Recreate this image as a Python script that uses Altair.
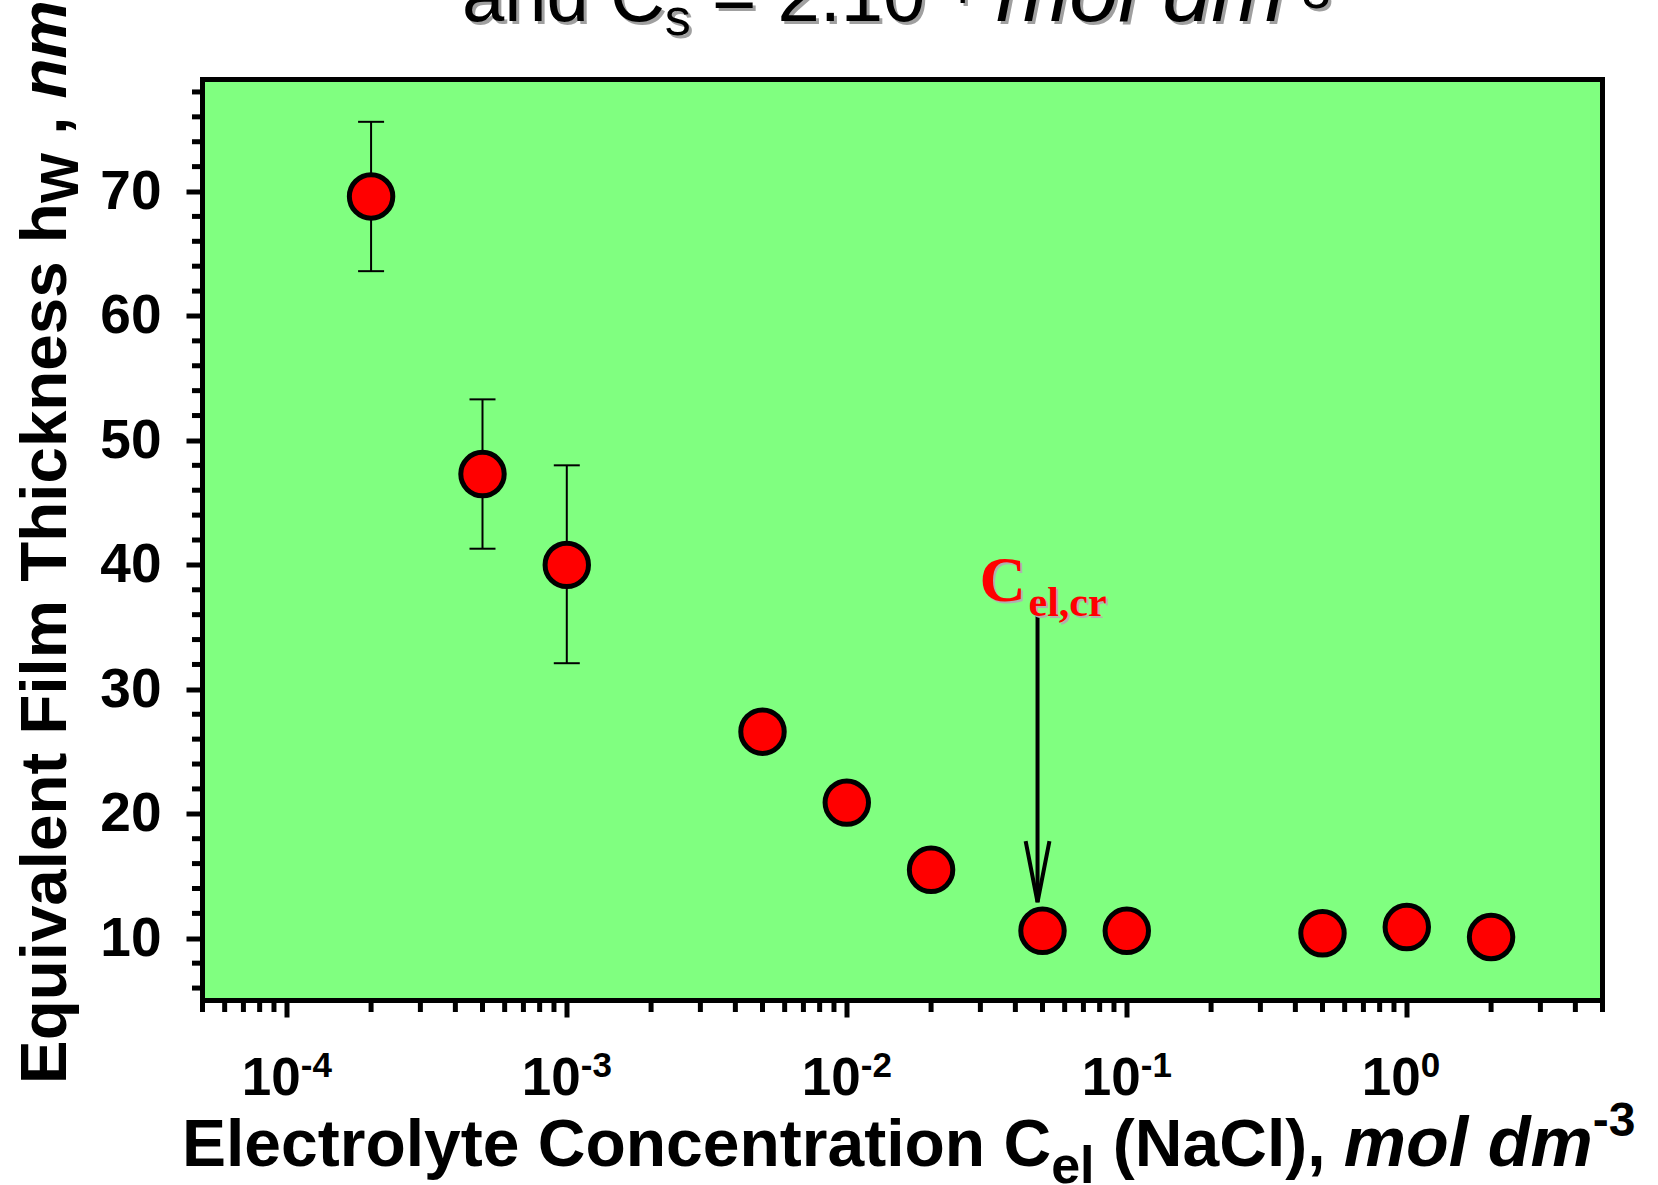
import altair as alt
import pandas as pd

# ---------------- data ----------------
conc = [2e-4, 5e-4, 1e-3, 5e-3, 1e-2, 2e-2, 5e-2, 1e-1, 5e-1, 1.0, 2.0]
thickness = [69.6, 47.3, 40.0, 26.6, 20.9, 15.5, 10.6, 10.6, 10.4, 10.9, 10.1]
err_conc = [2e-4, 5e-4, 1e-3]
err_low = [63.6, 41.3, 32.1]
err_high = [75.6, 53.3, 48.0]

x_major = [1e-4, 1e-3, 1e-2, 1e-1, 1.0]
x_major_exp = ["-4", "-3", "-2", "-1", "0"]
x_minor = [5e-5, 6e-5, 7e-5, 8e-5, 9e-5,
           2e-4, 3e-4, 4e-4, 5e-4, 6e-4, 7e-4, 8e-4, 9e-4,
           2e-3, 3e-3, 4e-3, 5e-3, 6e-3, 7e-3, 8e-3, 9e-3,
           2e-2, 3e-2, 4e-2, 5e-2, 6e-2, 7e-2, 8e-2, 9e-2,
           0.2, 0.3, 0.4, 0.5, 0.6, 0.7, 0.8, 0.9,
           2.0, 3.0, 4.0, 5.0]
y_major = [10, 20, 30, 40, 50, 60, 70]
y_minor = [6, 8, 12, 14, 16, 18, 22, 24, 26, 28, 32, 34, 36, 38, 42, 44, 46, 48,
           52, 54, 56, 58, 62, 64, 66, 68, 72, 74, 76, 78]

arrow_x = [0.048]
arrow_top = [35.9]
arrow_tip = [12.9]

# ---------------- geometry / style ----------------
W, H = 1400, 921
PAD_L, PAD_T = 202.5, 79.5
SANS = "Liberation Sans"
SERIF = "Liberation Serif"
GREEN = "#80FF80"
RED = "#FF0000"

xs = alt.Scale(type="log", domain=[5e-5, 5])
ys = alt.Scale(domain=[5, 79])

BOLD_W = {' ': 278, '(': 333, ')': 333, ',': 278, '-': 333, '.': 278, '=': 584,
          '0': 556, '1': 556, '2': 556, '3': 556, '4': 556,
          'C': 722, 'E': 667, 'F': 611, 'N': 722, 'T': 611, 'W': 944,
          'a': 556, 'c': 556, 'd': 611, 'e': 556, 'h': 611, 'i': 278, 'k': 556,
          'l': 278, 'm': 889, 'n': 611, 'o': 611, 'q': 611, 'r': 389, 's': 556,
          't': 333, 'u': 611, 'v': 556, 'y': 556}
REG_W = {' ': 278, 'a': 556, 'n': 556, 'd': 556, 'C': 722, 's': 500, '=': 584,
         '2': 556, '.': 278, '1': 556, '0': 556, '-': 333, '4': 556, '3': 556,
         'm': 833, 'o': 556, 'l': 222}


def tw(s, size, table):
    return sum(table.get(c, 556) for c in s) / 1000.0 * size


def text_at(txt, x_abs, y_abs, size, weight="bold", style="normal", font=SANS,
            color="black", angle=0):
    return alt.Chart(alt.Data(values=[{}])).mark_text(
        text=txt, font=font, fontSize=size, fontWeight=weight, fontStyle=style,
        color=color, angle=angle, align="left", baseline="alphabetic"
    ).encode(x=alt.value(x_abs - PAD_L), y=alt.value(y_abs - PAD_T))


def hrun(x0, y0, runs, color="black", dx=0, dy=0):
    layers = []
    cur = x0
    for txt, size, table, weight, style, shift in runs:
        lead = len(txt) - len(txt.lstrip(' '))
        start = cur + tw(txt[:lead], size, table)
        core = txt.strip(' ')
        if core:
            layers.append(text_at(core, start + dx, y0 + shift + dy, size, weight, style,
                                  color=color))
        cur += tw(txt, size, table)
    return layers


def vrun(x0, y0, runs):
    layers = []
    cur = y0
    for txt, size, table, weight, style, shift in runs:
        lead = len(txt) - len(txt.lstrip(' '))
        start = cur - tw(txt[:lead], size, table)
        core = txt.strip(' ')
        if core:
            layers.append(text_at(core, x0 + shift, start, size, weight, style, angle=270))
        cur -= tw(txt, size, table)
    return layers


# ---------------- data layers ----------------
pts = pd.DataFrame({"c": conc, "h": thickness})
errs = pd.DataFrame({"c": err_conc, "lo": err_low, "hi": err_high})
xmaj = pd.DataFrame({"v": x_major, "e": x_major_exp})
xmin = pd.DataFrame({"v": x_minor})
ymin = pd.DataFrame({"v": y_minor})
arr = pd.DataFrame({"c": arrow_x, "top": arrow_top, "tip": arrow_tip})

x_enc = alt.X("c:Q", scale=xs,
              axis=alt.Axis(values=x_major, tickSize=16.5, tickWidth=5, tickColor="black",
                            labels=False, domain=False, grid=False, title=None))
y_enc = alt.Y("h:Q", scale=ys,
              axis=alt.Axis(values=y_major, tickSize=16.5, tickWidth=5, tickColor="black",
                            labelFont=SANS, labelFontWeight="bold", labelFontSize=55,
                            labelColor="black", labelPadding=25, domain=False, grid=False,
                            title=None))

err_rule = alt.Chart(errs).mark_rule(color="black", strokeWidth=2).encode(
    x=alt.X("c:Q", scale=xs), y=alt.Y("lo:Q", scale=ys), y2="hi:Q")
cap_lo = alt.Chart(errs).mark_tick(color="black", thickness=2, size=26,
                                   orient="horizontal", opacity=1).encode(
    x=alt.X("c:Q", scale=xs), y=alt.Y("lo:Q", scale=ys))
cap_hi = alt.Chart(errs).mark_tick(color="black", thickness=2, size=26,
                                   orient="horizontal", opacity=1).encode(
    x=alt.X("c:Q", scale=xs), y=alt.Y("hi:Q", scale=ys))

points = alt.Chart(pts).mark_circle(color=RED, stroke="black", strokeWidth=5,
                                    size=1886, opacity=1).encode(x=x_enc, y=y_enc)

xminor_ticks = alt.Chart(xmin).mark_rule(color="black", strokeWidth=5).encode(
    x=alt.X("v:Q", scale=xs), y=alt.value(H), y2=alt.value(H + 11.5))
yminor_ticks = alt.Chart(ymin).mark_rule(color="black", strokeWidth=5).encode(
    y=alt.Y("v:Q", scale=ys), x=alt.value(0), x2=alt.value(-10.5))

xlab_base = alt.Chart(xmaj).mark_text(
    text="10", font=SANS, fontWeight="bold", fontSize=53, color="black",
    align="right", baseline="alphabetic", dx=14).encode(
    x=alt.X("v:Q", scale=xs), y=alt.value(1095 - PAD_T))
xlab_exp = alt.Chart(xmaj).mark_text(
    font=SANS, fontWeight="bold", fontSize=35, color="black",
    align="left", baseline="alphabetic", dx=14).encode(
    x=alt.X("v:Q", scale=xs), y=alt.value(1077 - PAD_T), text="e:N")

arrow_line = alt.Chart(arr).mark_rule(color="black", strokeWidth=4).encode(
    x=alt.X("c:Q", scale=xs), y=alt.Y("top:Q", scale=ys), y2="tip:Q")
arrow_head = alt.Chart(arr).mark_point(
    shape="M-0.39,-2L0,0L0.39,-2", size=3721, filled=False, stroke="black",
    strokeWidth=4, opacity=1).encode(x=alt.X("c:Q", scale=xs), y=alt.Y("tip:Q", scale=ys))


def annot(txt, size, dx, dy, color):
    return alt.Chart(arr).mark_text(
        text=txt, font=SERIF, fontWeight="bold", fontSize=size, color=color,
        align="left", baseline="alphabetic", dx=dx, dy=dy).encode(
        x=alt.X("c:Q", scale=xs), y=alt.Y("top:Q", scale=ys))


ann = [annot("C", 64, -56, -15 + 2, "#B0B0B0"), annot("el,cr", 42, -7, 2, "#B0B0B0"),
       annot("C", 64, -58, -15, RED), annot("el,cr", 42, -9, 0, RED)]

# ---------------- titles ----------------
x_title = hrun(182, 1166, [
    ("Electrolyte Concentration C", 66, BOLD_W, "bold", "normal", 0),
    ("el", 52, BOLD_W, "bold", "normal", 17),
    (" (NaCl), ", 66, BOLD_W, "bold", "normal", 0),
    ("mol dm", 70, BOLD_W, "bold", "italic", 0),
    ("-3", 48, BOLD_W, "bold", "normal", -30),
])

y_title = vrun(66, 1084, [
    ("Equivalent Film Thickness h", 65.5, BOLD_W, "bold", "normal", 0),
    ("W", 53, BOLD_W, "bold", "normal", 12),
    (" , ", 65.5, BOLD_W, "bold", "normal", 0),
    ("nm", 65.5, BOLD_W, "bold", "italic", 0),
])

top_runs = [
    ("and C", 76, REG_W, "normal", "normal", 0),
    ("s", 52, REG_W, "normal", "normal", 14),
    (" = 2.10", 76, REG_W, "normal", "normal", 0),
    ("-4", 52, REG_W, "normal", "normal", -18),
    (" mol dm", 88, REG_W, "normal", "italic", 0),
    ("-3", 52, REG_W, "normal", "normal", -13),
]
top_title = hrun(462, 21, top_runs, color="#A0A0A0", dx=3, dy=3) + hrun(462, 21, top_runs)

chart = alt.layer(
    xminor_ticks, yminor_ticks, err_rule, cap_lo, cap_hi, arrow_line, arrow_head,
    points, xlab_base, xlab_exp, *ann, *x_title, *y_title, *top_title
).properties(
    width=W, height=H,
    background="white",
    autosize=alt.AutoSizeParams(type="none"),
    padding={"left": PAD_L, "top": PAD_T, "right": 1658 - PAD_L - W, "bottom": 1185 - PAD_T - H},
).configure_view(
    stroke="black", strokeWidth=5, fill=GREEN
)

chart.save("out.html", embed_options={"renderer": "svg", "actions": False})
